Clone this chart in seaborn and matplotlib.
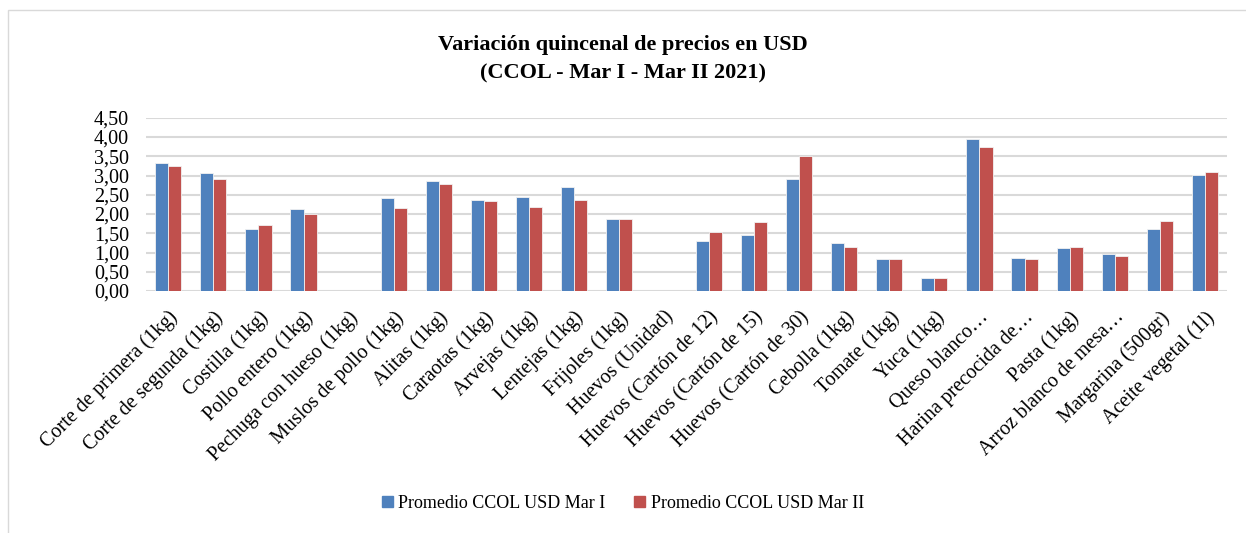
import matplotlib
matplotlib.use("Agg")
import matplotlib.pyplot as plt
import matplotlib.patches as mpatches
from matplotlib.ticker import MultipleLocator, FuncFormatter
import seaborn as sns
import pandas as pd

# data
productos = ["Corte de primera (1kg)", "Corte de segunda (1kg)", "Costilla (1kg)",
             "Pollo entero (1kg)", "Pechuga con hueso (1kg)", "Muslos de pollo (1kg)",
             "Alitas (1kg)", "Caraotas (1kg)", "Arvejas (1kg)", "Lentejas (1kg)",
             "Frijoles (1kg)", "Huevos (Unidad)", "Huevos (Cartón de 12)",
             "Huevos (Cartón de 15)", "Huevos (Cartón de 30)", "Cebolla (1kg)",
             "Tomate (1kg)", "Yuca (1kg)", "Queso blanco…", "Harina precocida de…",
             "Pasta (1kg)", "Arroz blanco de mesa…", "Margarina (500gr)",
             "Aceite vegetal (1l)"]
mar_i = [3.32, 3.06, 1.60, 2.13, 0.0, 2.41, 2.86, 2.36, 2.44, 2.70, 1.87, 0.0,
         1.30, 1.46, 2.92, 1.25, 0.84, 0.33, 3.94, 0.87, 1.13, 0.95, 1.60, 3.01]
mar_ii = [3.26, 2.91, 1.71, 2.00, 0.0, 2.15, 2.79, 2.34, 2.18, 2.36, 1.87, 0.0,
          1.53, 1.79, 3.52, 1.14, 0.82, 0.34, 3.75, 0.82, 1.15, 0.91, 1.81, 3.09]
series = ["Promedio CCOL USD Mar I", "Promedio CCOL USD Mar II"]
colores = ["#4F81BD", "#C0504D"]

df = pd.DataFrame({
    "producto": productos * 2,
    "precio": mar_i + mar_ii,
    "serie": [series[0]] * len(productos) + [series[1]] * len(productos),
})

plt.rcParams["font.family"] = ["Liberation Serif", "DejaVu Serif"]

fig = plt.figure(figsize=(12.46, 5.33), dpi=100)
ax = fig.add_axes([0.117, 0.454, 0.868, 0.325])

sns.barplot(data=df, x="producto", y="precio", hue="serie", palette=colores,
            saturation=1, width=0.58, gap=0, edgecolor="#F2F2F2", linewidth=0.6,
            ax=ax, errorbar=None, legend=False)

ax.set_ylim(0, 4.5)
ax.set_xlim(-0.5, len(productos) - 0.5)
ax.yaxis.set_major_locator(MultipleLocator(0.5))
ax.yaxis.set_major_formatter(FuncFormatter(lambda v, p: f"{v:.2f}".replace(".", ",")))
ax.grid(axis="y", color="#D9D9D9", linewidth=1.5)
ax.set_axisbelow(True)
for s in ax.spines.values():
    s.set_visible(False)
ax.tick_params(axis="both", length=0, labelsize=14.5)
ax.tick_params(axis="y", pad=12)
ax.tick_params(axis="x", pad=12)
ax.set_xlabel("")
ax.set_ylabel("")
plt.setp(ax.get_xticklabels(), rotation=45, ha="right", rotation_mode="anchor")

fig.text(0.5, 0.915, "Variación quincenal de precios en USD", ha="center", va="center",
         fontsize=16, fontweight="bold")
fig.text(0.5, 0.862, "(CCOL - Mar I - Mar II 2021)", ha="center", va="center",
         fontsize=16, fontweight="bold")

handles = [mpatches.Patch(color=c, label=l) for c, l in zip(colores, series)]
fig.legend(handles=handles, loc="center", bbox_to_anchor=(0.5, 0.056), ncol=2,
           frameon=False, fontsize=13, handlelength=0.6, handleheight=0.6,
           handletextpad=0.3, columnspacing=1.6)

# light chart frame
fig.patches.append(mpatches.Rectangle((8 / 1246, -0.01), 1.0, 1 - 10 / 533 + 0.01,
                                      transform=fig.transFigure, fill=False,
                                      edgecolor="#D9D9D9", linewidth=1))

fig.savefig("out.png", dpi=100)
